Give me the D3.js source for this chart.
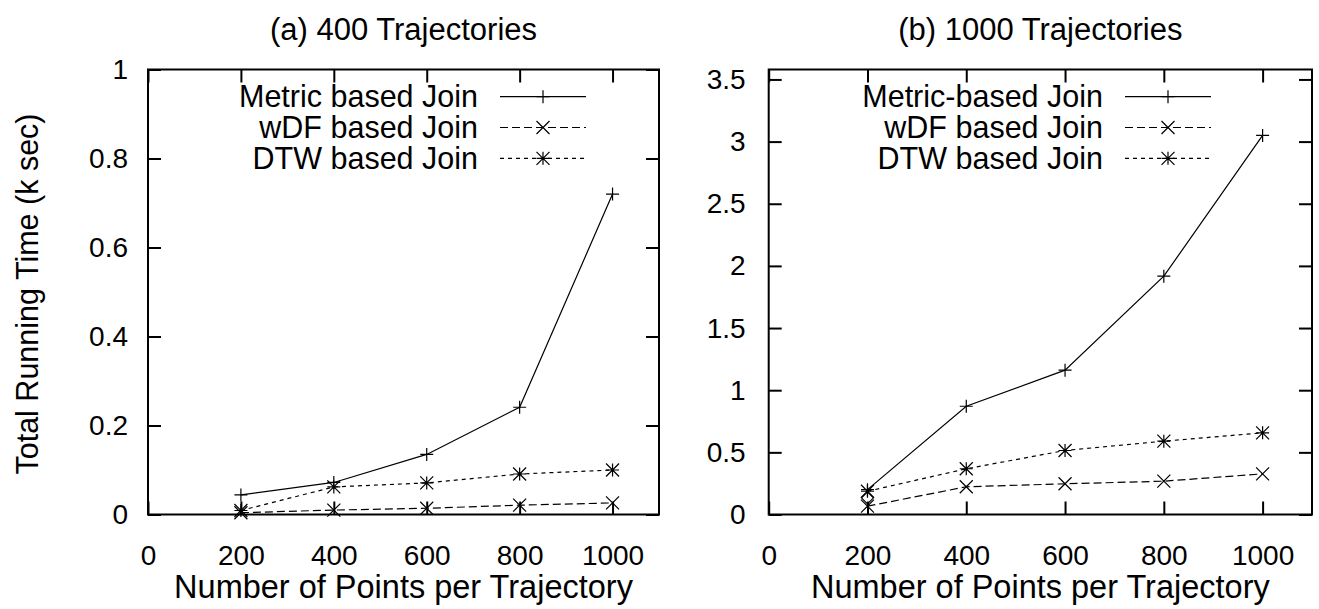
<!DOCTYPE html>
<html>
<head>
<meta charset="utf-8">
<script src="https://cdn.jsdelivr.net/npm/d3@7"></script>
<style>
  html, body { margin: 0; padding: 0; background: #fff; }
  svg { display: block; font-family: "Liberation Sans", Arial, Helvetica, sans-serif; }
</style>
</head>
<body>
<svg id="chart" width="1319" height="609"></svg>
<script>
// Points per trajectory (shared x values)
const pointsPerTrajectory = [200, 400, 600, 800, 1000];

// (a) 400 trajectories: total running time, k sec
const metric400 = [0.044, 0.072, 0.135, 0.241, 0.720];
const wdf400    = [0.004, 0.010, 0.014, 0.021, 0.026];
const dtw400    = [0.009, 0.062, 0.071, 0.091, 0.100];

// (b) 1000 trajectories: total running time, k sec
const metric1000 = [0.20, 0.871, 1.161, 1.917, 3.05];
const wdf1000    = [0.067, 0.223, 0.247, 0.268, 0.327];
const dtw1000    = [0.187, 0.368, 0.515, 0.590, 0.657];
// stray diamond marker at 200 points in panel (b)
const extraDiamond1000 = [{ x: 200, y: 0.134 }];

// Tick labels
const xTicks = [0, 200, 400, 600, 800, 1000];
const yTicks400 = [0, 0.2, 0.4, 0.6, 0.8, 1];
const yTicks1000 = [0, 0.5, 1, 1.5, 2, 2.5, 3, 3.5];

const titles = ["(a) 400 Trajectories", "(b) 1000 Trajectories"];
const xLabel = "Number of Points per Trajectory";
const yLabel = "Total Running Time (k sec)";

const legendNames400 = ["Metric based Join", "wDF based Join", "DTW based Join"];
const legendNames1000 = ["Metric-based Join", "wDF based Join", "DTW based Join"];

const svg = d3.select("#chart");

const TICK_FONT = 28, LEGEND_FONT = 30.5, TITLE_FONT = 31, XLABEL_FONT = 32.5, YLABEL_FONT = 30.5;
const TOP = 69.5, BOTTOM = 514.5;

const styles = [
  { dash: null,  marker: "plus"  },
  { dash: "8,4", marker: "cross" },
  { dash: "4,4", marker: "star"  }
];

function markerPath(type, s) {
  switch (type) {
    case "plus":  return `M${-s},0H${s}M0,${-s}V${s}`;
    case "cross": return `M${-s},${-s}L${s},${s}M${-s},${s}L${s},${-s}`;
    case "star":  return `M${-s},0H${s}M0,${-s}V${s}M${-s},${-s}L${s},${s}M${-s},${s}L${s},${-s}`;
    case "diamond": return `M0,${-s}L${s},0L0,${s}L${-s},0Z`;
  }
}

function panel(opts) {
  const { left, right, yMax, yTicks, series, names, title, legendTextX, yPad, extra } = opts;
  const x = d3.scaleLinear().domain([0, 1100]).range([left, right]);
  const y = d3.scaleLinear().domain([0, yMax]).range([BOTTOM, TOP]);
  const g = svg.append("g");

  const fmt = d => String(d);

  // axes with inward ticks on all four sides
  const axB = g.append("g").attr("transform", `translate(0,${BOTTOM})`)
    .call(d3.axisBottom(x).tickValues(xTicks).tickSizeInner(-13).tickSizeOuter(0).tickPadding(31).tickFormat(fmt));
  const axT = g.append("g").attr("transform", `translate(0,${TOP})`)
    .call(d3.axisTop(x).tickValues(xTicks).tickSizeInner(-13).tickSizeOuter(0).tickFormat(""));
  const axL = g.append("g").attr("transform", `translate(${left},0)`)
    .call(d3.axisLeft(y).tickValues(yTicks).tickSizeInner(-13).tickSizeOuter(0).tickPadding(yPad).tickFormat(fmt));
  const axR = g.append("g").attr("transform", `translate(${right},0)`)
    .call(d3.axisRight(y).tickValues(yTicks).tickSizeInner(-13).tickSizeOuter(0).tickFormat(""));
  [axB, axT, axL, axR].forEach(a => {
    a.select(".domain").remove();
    a.selectAll(".tick line").attr("stroke", "#000").attr("stroke-width", 2);
    a.selectAll("text").attr("font-size", TICK_FONT).attr("fill", "#000")
      .attr("font-family", "Liberation Sans, Arial, sans-serif");
  });

  // frame
  g.append("rect")
    .attr("x", left).attr("y", TOP)
    .attr("width", right - left).attr("height", BOTTOM - TOP)
    .attr("fill", "none").attr("stroke", "#000").attr("stroke-width", 2);

  // title and x label
  const cx = (left + right) / 2;
  g.append("text").attr("x", cx).attr("y", 40).attr("text-anchor", "middle")
    .attr("font-size", TITLE_FONT).text(title);
  g.append("text").attr("x", cx).attr("y", 598).attr("text-anchor", "middle")
    .attr("font-size", XLABEL_FONT).text(xLabel);

  // series
  const line = d3.line().x(d => x(d.x)).y(d => y(d.y));
  series.forEach((vals, i) => {
    const pts = pointsPerTrajectory.map((p, j) => ({ x: p, y: vals[j] }));
    g.append("path").datum(pts)
      .attr("d", line).attr("fill", "none").attr("stroke", "#000")
      .attr("stroke-width", 1.2)
      .attr("stroke-dasharray", styles[i].dash);
    g.selectAll(null).data(pts).enter().append("path")
      .attr("transform", d => `translate(${x(d.x)},${y(d.y)})`)
      .attr("d", markerPath(styles[i].marker, 6.5))
      .attr("fill", "none").attr("stroke", "#000").attr("stroke-width", 1.2);
  });

  if (extra) {
    g.selectAll(null).data(extra).enter().append("path")
      .attr("transform", d => `translate(${x(d.x)},${y(d.y)})`)
      .attr("d", markerPath("diamond", 6))
      .attr("fill", "none").attr("stroke", "#000").attr("stroke-width", 1.2);
  }

  // legend
  const rowY = [96.7, 127.5, 158.3];
  names.forEach((n, i) => {
    g.append("text").attr("x", legendTextX).attr("y", rowY[i]).attr("dy", "0.35em")
      .attr("text-anchor", "end").attr("font-size", LEGEND_FONT).text(n);
    const x0 = legendTextX + 22, x1 = x0 + 86;
    g.append("line").attr("x1", x0).attr("x2", x1).attr("y1", rowY[i]).attr("y2", rowY[i])
      .attr("stroke", "#000").attr("stroke-width", 1.2).attr("stroke-dasharray", styles[i].dash);
    g.append("path").attr("transform", `translate(${(x0 + x1) / 2},${rowY[i]})`)
      .attr("d", markerPath(styles[i].marker, 6.5))
      .attr("fill", "none").attr("stroke", "#000").attr("stroke-width", 1.2);
  });
}

panel({
  left: 148, right: 659, yMax: 1.0, yTicks: yTicks400,
  series: [metric400, wdf400, dtw400], names: legendNames400,
  title: titles[0], legendTextX: 478, yPad: 20
});
panel({
  left: 768.7, right: 1312, yMax: 3.58, yTicks: yTicks1000,
  series: [metric1000, wdf1000, dtw1000], names: legendNames1000,
  title: titles[1], legendTextX: 1103, yPad: 23, extra: extraDiamond1000
});

// shared y label
svg.append("text")
  .attr("transform", "translate(38,294) rotate(-90)")
  .attr("text-anchor", "middle").attr("font-size", YLABEL_FONT)
  .text(yLabel);
</script>
</body>
</html>
